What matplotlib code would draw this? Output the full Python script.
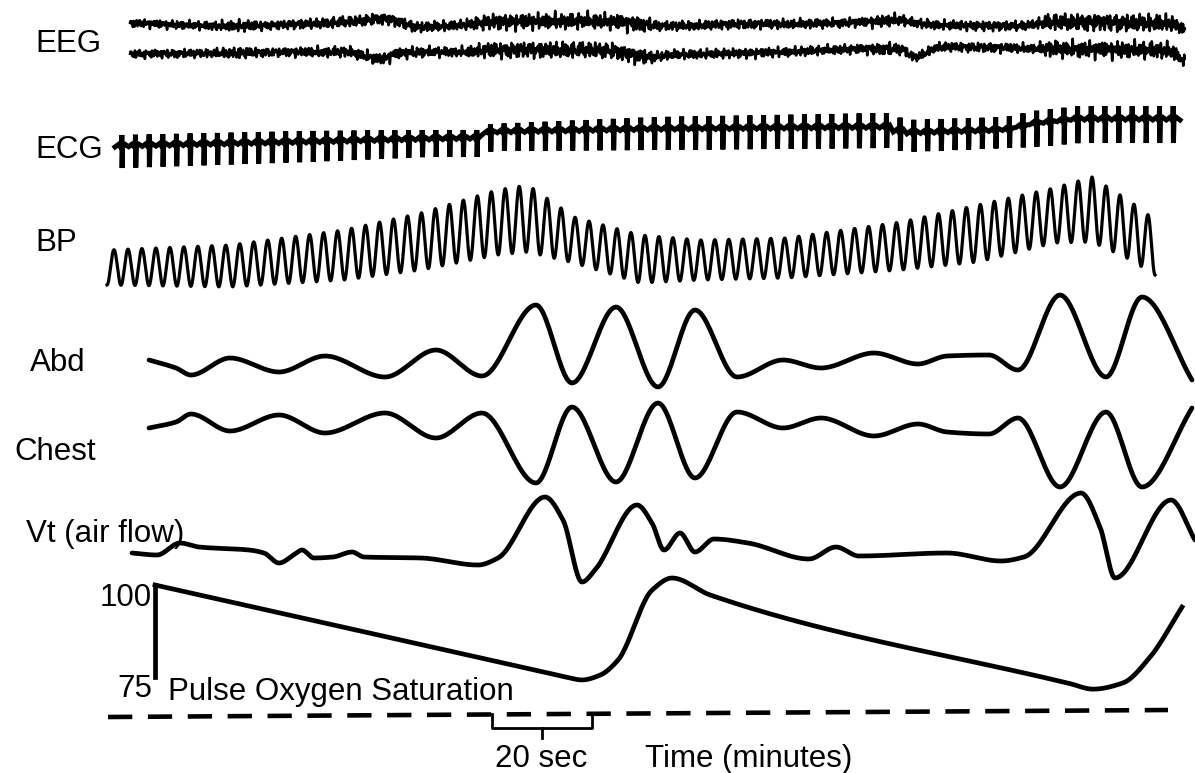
import numpy as np
import matplotlib.pyplot as plt

plt.rcParams['font.family'] = ['Liberation Sans', 'DejaVu Sans']

# ---------------- data ----------------
# time in seconds (20 s bracket), amplitudes in arbitrary units per trace

# EEG: slow drift of each channel and the activity envelope
eeg_t = [4, 24, 39, 47, 54.6, 57, 62, 70, 77, 98, 108, 112, 128, 135, 151, 158, 161, 166, 181, 189, 208, 212, 215]
eeg1_drift = [1, -2, 0, 2, 5, 3, -3, -1, 2, 3, -1, -2, 0, 0, 2, 4, 1, -1, -2, 2, 1, 1, -6]
eeg2_drift = [-2, -1, 0, 0, -7, -2, 0, 0, 2, 2, -5, -3, -1, 0, 3, 3, -5, 5, 4, 3, 2, 1, -10]
env_t = [4, 20, 26, 32, 45, 55, 70, 76, 106, 110, 150, 156, 160, 185, 188, 212, 215]
env_amp = [4, 4, 5.5, 4, 5, 5.5, 4.5, 7.5, 7.5, 4.5, 4.5, 6, 4.5, 4.5, 8, 8, 5]

# ECG: baseline, R-wave height and S-wave depth
ecg_n_beats = 78
ecg_t = [1, 38, 62, 72, 75, 108, 154, 158, 178, 183.4, 192.6, 214]
ecg_base = [-7, -3, 0, 1, 7, 10, 12, 6, 9, 15, 20, 20]
ecg_up = [12, 12, 10, 9, 9, 13, 15, 14, 14, 14, 14, 14]
ecg_down = [21, 19, 17, 18, 18, 20, 20, 18, 17, 22, 23, 23]

# BP: upper and lower envelope of each pressure wave
bp_n_cycles = 75
bp_t = [-0.6, 24, 46.8, 62.2, 77.4, 83.6, 92.8, 106, 118, 135.2, 158.2, 173.6, 188.8, 196.4, 204.2, 209]
bp_top = [50, 55, 70, 87, 110, 115, 83, 65, 60, 62, 78, 95, 112, 123, 98, 80]
bp_bot = [15, 13, 20, 30, 45, 48, 37, 17, 20, 22, 30, 38, 57, 58, 40, 25]

# Abdominal effort
abd_t = [7.8, 13.2, 16.2, 24, 33.8, 43, 55, 65.2, 74.4, 85.2, 92.4, 101.2, 109.6, 117, 125.4,
         134.6, 142.2, 152.8, 161.6, 167.4, 175.8, 181.6, 190, 199.2, 206.4, 216.4]
abd_v = [5, -3, -10, 7, -7, 9, -12, 15, -11, 60, -18, 58, -22, 55, -12,
         5, -3, 12, 1, 9, 10, -5, 70, -12, 68, -15]

# Chest effort
chest_t = abd_t
chest_v = [12, 18, 26, 9, 25, 7, 27, 2, 27, -43, 33, -42, 37, -38, 28,
           12, 22, 4, 16, 8, 6, 22, -47, 28, -47, 32]

# Tidal volume (air flow)
vt_t = [4.4, 9.4, 14, 17.8, 27.8, 30.8, 33.8, 37, 38.4, 40.8, 44.6, 48.4, 50.8, 62.2, 73.6, 77.6,
        87, 90.6, 94.4, 97, 105.4, 108.4, 110.8, 114, 117, 120.8, 127.6, 139.8, 145.2, 149.8,
        167.4, 178.2, 182.8, 194.2, 198, 201, 212.2, 217]
vt_v = [7, 5, 17, 13, 10, 7, -3, 6, 10, 2, 3, 8, 3, 2, -5, 2,
        63, 40, -22, -10, 55, 37, 10, 27, 8, 21, 17, 1, 13, 4,
        7, -1, 3, 67, 33, -18, 60, 20]

# Pulse oxygen saturation (%)
spo2_t = [9, 85, 91.2, 94.4, 98, 101.6, 108.4, 112.4, 120, 192, 196.6, 202.6, 208, 214.4]
spo2_v = [100, 76.9, 75, 74.2, 75.5, 79.6, 98.6, 101.9, 97.3, 73.2, 71.7, 73.4, 80.4, 94.0]
spo2_scale = [75, 100]

time_axis = [-0.4, 211.6]
bar_20s = [76.4, 96.4]


def smooth(t, v, n=25):
    # monotone cubic (pchip) curve through the points
    t = np.asarray(t, float)
    v = np.asarray(v, float)
    h = np.diff(t)
    d = np.diff(v) / h
    m = np.zeros_like(v)
    m[0], m[-1] = d[0], d[-1]
    for k in range(1, len(v) - 1):
        if d[k - 1] * d[k] > 0:
            w1 = 2 * h[k] + h[k - 1]
            w2 = h[k] + 2 * h[k - 1]
            m[k] = (w1 + w2) / (w1 / d[k - 1] + w2 / d[k])
    xs, ys = [], []
    for k in range(len(h)):
        s = np.linspace(0, 1, n, endpoint=False)
        h00 = 2 * s**3 - 3 * s**2 + 1
        h10 = s**3 - 2 * s**2 + s
        h01 = -2 * s**3 + 3 * s**2
        h11 = s**3 - s**2
        xs.append(t[k] + s * h[k])
        ys.append(h00 * v[k] + h10 * h[k] * m[k] + h01 * v[k + 1] + h11 * h[k] * m[k + 1])
    xs.append([t[-1]])
    ys.append([v[-1]])
    return np.concatenate(xs), np.concatenate(ys)


fig = plt.figure(figsize=(11.95, 7.73), dpi=100)
ax = fig.add_axes([0, 0, 1, 1])
ax.set_xlim(-22, 217)
ax.set_ylim(773, 0)
ax.axis('off')

# EEG: two channels
tt = np.arange(eeg_t[0], eeg_t[-1], 0.05)
amp = np.interp(tt, env_t, env_amp)
for k, (drift, base) in enumerate([(eeg1_drift, 24), (eeg2_drift, 52)]):
    ph = 1.3 * k
    carrier = (np.sin(2 * np.pi * tt / 0.31 + ph) + 0.9 * np.sin(2 * np.pi * tt / 0.43 + 2 * ph + 1)
               + 0.7 * np.sin(2 * np.pi * tt / 0.59 + 3 * ph + 2) + 0.5 * np.sin(2 * np.pi * tt / 0.83 + ph + 0.5)
               + 0.5 * np.sin(2 * np.pi * tt / 1.7 + 4 * ph)) / 2.4
    dx, dy = smooth(eeg_t, drift, 10)
    ax.plot(tt, base - np.interp(tt, dx, dy) - amp * carrier, color='black', lw=1.8)

# ECG
period = (ecg_t[-1] - ecg_t[0]) / ecg_n_beats
xs, ys = [], []
for b in range(ecg_n_beats):
    t0 = ecg_t[0] + b * period
    base = np.interp(t0, ecg_t, ecg_base)
    up = np.interp(t0, ecg_t, ecg_up)
    dn = np.interp(t0, ecg_t, ecg_down)
    xs += [t0, t0 + 0.25 * period, t0 + 0.4 * period, t0 + 0.48 * period, t0 + 0.5 * period,
           t0 + 0.52 * period, t0 + 0.56 * period, t0 + 0.75 * period]
    ys += [base, base + 2.5, base, base, base + up, base - dn, base, base + 2.5]
xs.append(ecg_t[-1])
ys.append(np.interp(ecg_t[-1], ecg_t, ecg_base))
ax.plot(xs, 140 - np.array(ys), color='black', lw=3.6, solid_joinstyle='miter')

# BP
tb = np.linspace(bp_t[0], bp_t[-1], 6000)
bp_period = (bp_t[-1] - bp_t[0]) / bp_n_cycles
top = np.interp(tb, bp_t, bp_top)
bot = np.interp(tb, bp_t, bp_bot)
wave = (top + bot) / 2 - (top - bot) / 2 * np.cos(2 * np.pi * (tb - bp_t[0]) / bp_period)
ax.plot(tb, 300 - wave, color='black', lw=2.3)

# respiratory traces
for t, v, base in [(abd_t, abd_v, 365), (chest_t, chest_v, 440), (vt_t, vt_v, 560)]:
    x, y = smooth(t, v)
    ax.plot(x, base - y, color='black', lw=3.4, solid_capstyle='round')

# SpO2
x, y = smooth(spo2_t, spo2_v)
ax.plot(x, 585 + (100 - y) * 3.68, color='black', lw=3.4)
ax.plot([spo2_t[0], spo2_t[0]], [585 + (100 - s) * 3.68 for s in spo2_scale], color='black', lw=3.4)

# time axis and 20 s bar
ax.plot(time_axis, [717, 710], color='black', lw=3.3, dashes=(5.3, 3.4), dash_capstyle='butt')
mid = sum(bar_20s) / 2
ax.plot([bar_20s[0], bar_20s[0], bar_20s[1], bar_20s[1]], [714, 728, 728, 714], color='black', lw=2)
ax.plot([mid, mid], [728, 738], color='black', lw=2)


def label(px, py, s, ha='left'):
    fig.text(px / 1195, 1 - py / 773, s, ha=ha, va='baseline', fontsize=22.5)


label(35, 52, 'EEG')
label(35, 158, 'ECG')
label(35, 251, 'BP')
label(30, 371, 'Abd')
label(14, 460, 'Chest')
label(26, 542, 'Vt (air flow)')
label(152, 606, '100', 'right')
label(152, 697, '75', 'right')
label(168, 700, 'Pulse Oxygen Saturation')
label(541, 767, '20 sec', 'center')
label(645, 767, 'Time (minutes)')

fig.savefig('out.png', dpi=100)
